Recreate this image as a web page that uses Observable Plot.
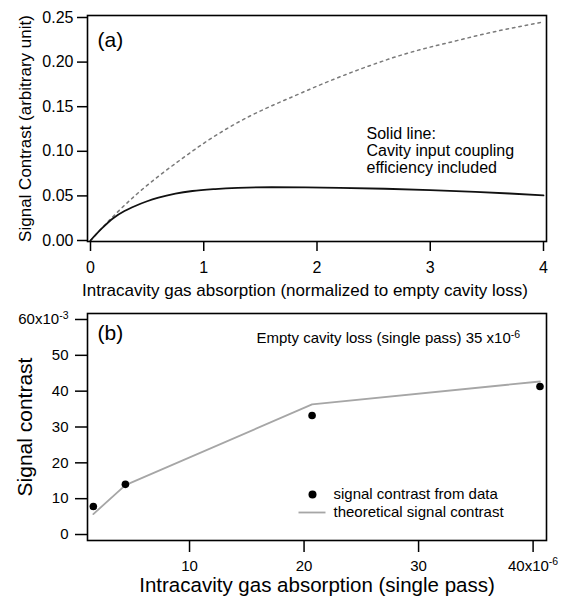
<!DOCTYPE html>
<html><head><meta charset="utf-8">
<script src="https://cdn.jsdelivr.net/npm/d3@7"></script>
<script src="https://cdn.jsdelivr.net/npm/@observablehq/plot@0.6"></script>
<style>
body{margin:0;background:#fff;}
#chart{width:564px;}
#chart svg{display:block;font-family:"Liberation Sans",Arial,Helvetica,sans-serif;background:#fff;}
</style></head><body><div id="chart"></div>
<script>
// Panel (a): intracavity absorption normalized to empty cavity loss
const dashedAbs = [0, 0.2, 0.4, 0.6, 0.8, 1.0, 1.2, 1.4, 1.6, 1.8, 2.0, 2.4, 2.8, 3.2, 3.6, 4.0];
const dashedContrast = [0, 0.027, 0.051, 0.072, 0.091, 0.109, 0.125, 0.139, 0.151, 0.162, 0.173, 0.193, 0.210, 0.223, 0.235, 0.245];
const solidAbs = [0, 0.1, 0.2, 0.3, 0.4, 0.5, 0.6, 0.75, 0.9, 1.1, 1.3, 1.6, 1.9, 2.2, 2.6, 3.0, 3.4, 3.7, 4.0];
const solidContrast = [0, 0.0135, 0.025, 0.033, 0.039, 0.044, 0.048, 0.0525, 0.0555, 0.0577, 0.059, 0.0597, 0.0595, 0.059, 0.058, 0.0565, 0.0545, 0.0527, 0.0505];
const xTicksA = [0, 1, 2, 3, 4];
const yTicksA = [0, 0.05, 0.10, 0.15, 0.20, 0.25];

// Panel (b): single-pass absorption (x10^-6) vs signal contrast (x10^-3)
const dataAbs = [1.6, 4.4, 20.7, 40.6];
const dataContrast = [7.8, 14.0, 33.2, 41.3];
const theoryAbs = [1.6, 4.4, 20.7, 40.6];
const theoryContrast = [5.7, 13.8, 36.3, 42.7];
const xTicksB = [10, 20, 30, 40];
const yTicksB = [0, 10, 20, 30, 40, 50, 60];

const textA = {
  xLabel: "Intracavity gas absorption (normalized to empty cavity loss)",
  yLabel: "Signal Contrast (arbitrary unit)",
  tag: "(a)",
  note: "Solid line:\nCavity input coupling\nefficiency included"
};
const textB = {
  xLabel: "Intracavity gas absorption (single pass)",
  yLabel: "Signal contrast",
  tag: "(b)",
  note: "Empty cavity loss (single pass) 35 x10^-6",
  legendData: "signal contrast from data",
  legendTheory: "theoretical signal contrast"
};

const dashed = dashedAbs.map((x, i) => ({x, y: dashedContrast[i]}));
const solid = solidAbs.map((x, i) => ({x, y: solidContrast[i]}));
const pts = dataAbs.map((x, i) => ({x, y: dataContrast[i]}));
const theory = theoryAbs.map((x, i) => ({x, y: theoryContrast[i]}));

const lineSymbol = {draw(ctx) { ctx.moveTo(-13.5, 0); ctx.lineTo(13.5, 0); }};

const plotA = Plot.plot({
  width: 564, height: 300,
  marginTop: 15, marginBottom: 59, marginLeft: 87, marginRight: 18,
  x: {domain: [0, 4], insetLeft: 3, insetRight: 3},
  y: {domain: [0, 0.25], insetBottom: 1, insetTop: 2},
  style: {fontFamily: "Liberation Sans, Arial, sans-serif", color: "black"},
  marks: [
    Plot.axisX({ticks: xTicksA, tickSize: 10, tickPadding: 10, fontSize: 16, strokeWidth: 1.5, label: null, tickFormat: d => String(d)}),
    Plot.axisY({ticks: yTicksA, tickSize: 10, tickPadding: 4, fontSize: 16, strokeWidth: 1.5, label: null, tickFormat: d3.format(".2f")}),
    Plot.line(dashed, {x: "x", y: "y", stroke: "#7a7a7a", strokeWidth: 1.5, strokeDasharray: "2.5,4", curve: "monotone-x"}),
    Plot.line(solid, {x: "x", y: "y", stroke: "#111", strokeWidth: 1.8, curve: "monotone-x"}),
    Plot.frame({stroke: "black", strokeWidth: 1.6}),
    Plot.text([textA.tag], {text: d => d, frameAnchor: "top-left", dx: 10, dy: 25, textAnchor: "start", lineAnchor: "middle", fontSize: 21}),
    Plot.text([textA.note], {text: d => d, frameAnchor: "top-left", dx: 279, dy: 112, textAnchor: "start", lineAnchor: "top", fontSize: 16, lineHeight: 1.05}),
    Plot.text([textA.xLabel], {text: d => d, frameAnchor: "bottom", dx: -12, dy: 49, textAnchor: "middle", lineAnchor: "middle", fontSize: 17}),
    Plot.text([textA.yLabel], {text: d => d, frameAnchor: "left", dx: -62, dy: 0, rotate: -90, textAnchor: "middle", lineAnchor: "middle", fontSize: 17})
  ]
});

const plotB = Plot.plot({
  width: 564, height: 299,
  marginTop: 13, marginBottom: 59, marginLeft: 87, marginRight: 18,
  x: {domain: [1.09, 41.17]},
  y: {domain: [-1.67, 61.67]},
  style: {fontFamily: "Liberation Sans, Arial, sans-serif", color: "black"},
  marks: [
    Plot.axisX({ticks: xTicksB, tickSize: 12, tickPadding: 8, fontSize: 15, strokeWidth: 1.5, label: null, tickFormat: d => d === 40 ? "40x10^-6" : String(d)}),
    Plot.axisY({ticks: yTicksB, tickSize: 12, tickPadding: 7, fontSize: 15, strokeWidth: 1.5, label: null, tickFormat: d => d === 60 ? "60x10^-3" : String(d)}),
    Plot.line(theory, {x: "x", y: "y", stroke: "#a6a6a6", strokeWidth: 1.8}),
    Plot.dot(pts, {x: "x", y: "y", r: 3.8, fill: "black"}),
    Plot.frame({stroke: "black", strokeWidth: 1.6}),
    Plot.text([textB.tag], {text: d => d, frameAnchor: "top-left", dx: 10, dy: 20, textAnchor: "start", lineAnchor: "middle", fontSize: 21}),
    Plot.text([textB.note], {text: d => d, frameAnchor: "top-left", dx: 169, dy: 25, textAnchor: "start", lineAnchor: "middle", fontSize: 15}),
    Plot.dot([textB.legendData], {frameAnchor: "bottom-right", dx: -234, dy: -46, r: 4, fill: "black"}),
    Plot.dot([textB.legendTheory], {frameAnchor: "bottom-right", dx: -234.5, dy: -28, symbol: lineSymbol, fill: "none", stroke: "#a6a6a6", strokeWidth: 1.8}),
    Plot.text([textB.legendData], {text: d => d, frameAnchor: "bottom-right", dx: -213, dy: -46, textAnchor: "start", lineAnchor: "middle", fontSize: 15}),
    Plot.text([textB.legendTheory], {text: d => d, frameAnchor: "bottom-right", dx: -213, dy: -28, textAnchor: "start", lineAnchor: "middle", fontSize: 15}),
    Plot.text([textB.xLabel], {text: d => d, frameAnchor: "bottom", dx: 0, dy: 45, textAnchor: "middle", lineAnchor: "middle", fontSize: 20.5}),
    Plot.text([textB.yLabel], {text: d => d, frameAnchor: "left", dx: -62, dy: 0, rotate: -90, textAnchor: "middle", lineAnchor: "middle", fontSize: 21})
  ]
});

function supers(svg) {
  svg.querySelectorAll("text, tspan").forEach(t => {
    if (t.children.length) return;
    const s = t.textContent; const i = s.indexOf("^"); if (i < 0) return;
    t.textContent = s.slice(0, i);
    const sp = document.createElementNS("http://www.w3.org/2000/svg", "tspan");
    sp.setAttribute("dy", "-0.55em");
    sp.style.fontSize = "70%";
    sp.textContent = s.slice(i + 1);
    t.appendChild(sp);
  });
}
supers(plotA); supers(plotB);
document.getElementById("chart").append(plotA, plotB);
</script></body></html>
